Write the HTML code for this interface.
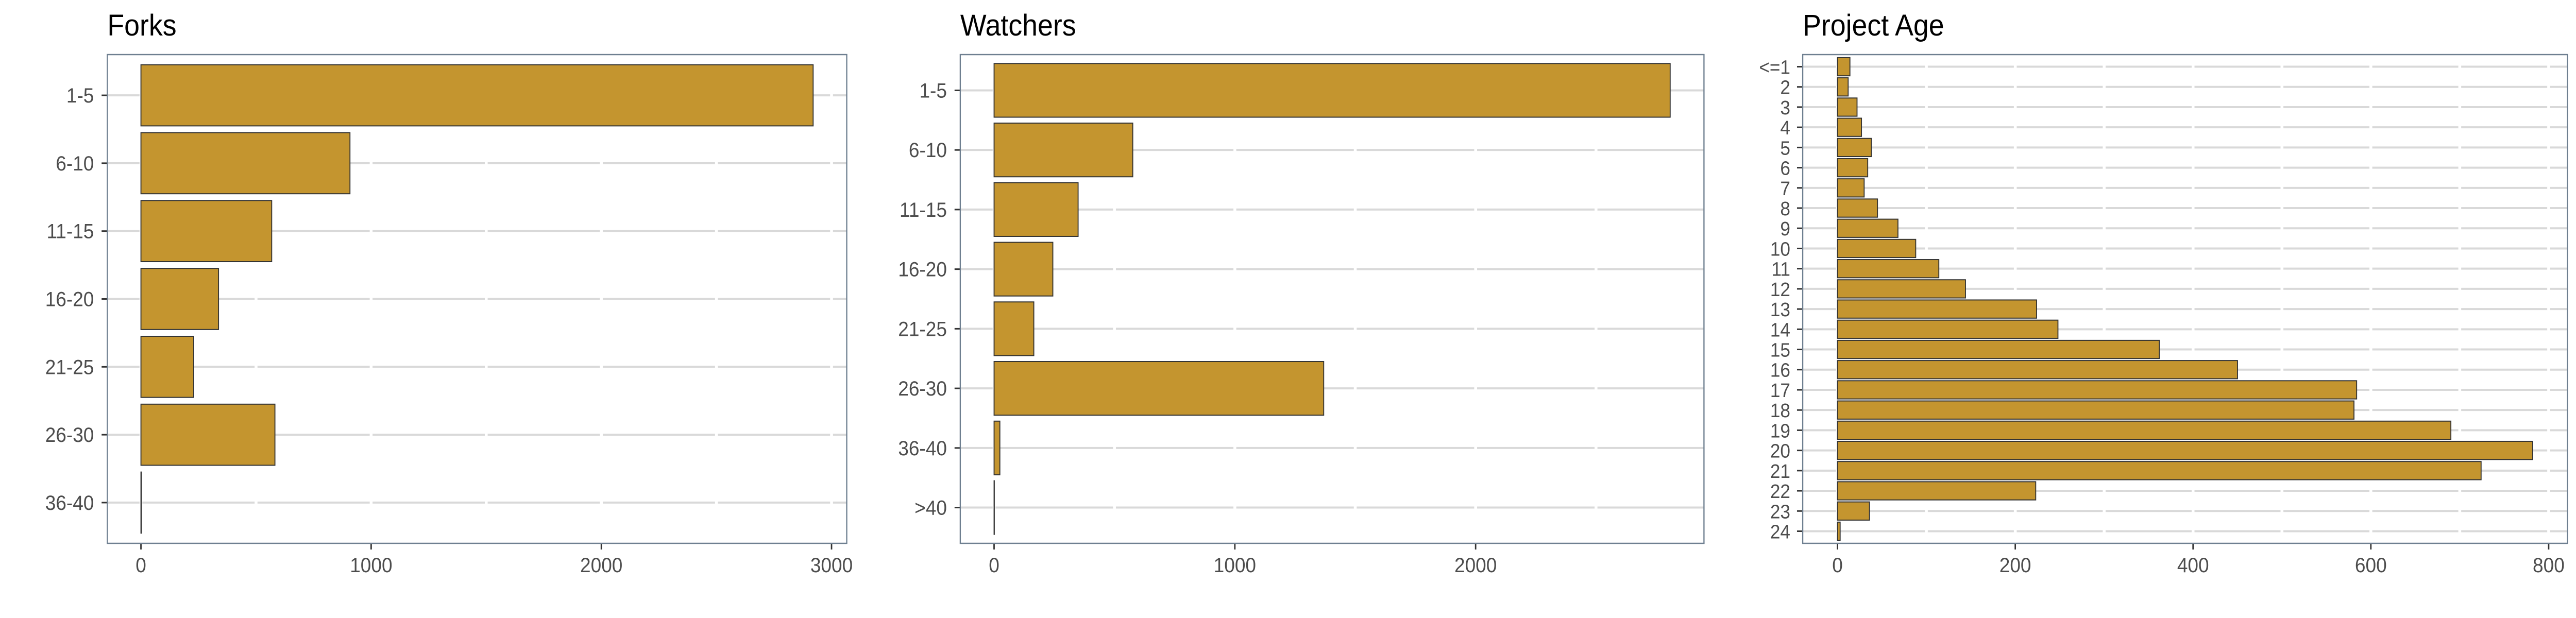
<!DOCTYPE html>
<html><head><meta charset="utf-8"><style>
html,body{margin:0;padding:0;background:#fff;overflow:hidden;}
svg{display:block;width:100vw;height:100vh;font-family:"Liberation Sans",sans-serif;}
</style></head><body>
<svg id="chart" viewBox="0 0 5400 1200" preserveAspectRatio="none" xmlns="http://www.w3.org/2000/svg"></svg>
<script>
const forksCategories = ["1-5","6-10","11-15","16-20","21-25","26-30","36-40"];
const forksValues = [2920, 908, 568, 337, 229, 582, 2];
const forksTicks = [0, 1000, 2000, 3000];
const watchersCategories = ["1-5","6-10","11-15","16-20","21-25","26-30","36-40",">40"];
const watchersValues = [2808, 576, 349, 244, 165, 1369, 24, 1];
const watchersTicks = [0, 1000, 2000];
const ageCategories = ["<=1","2","3","4","5","6","7","8","9","10","11","12","13","14","15","16","17","18","19","20","21","22","23","24"];
const ageValues = [14, 12, 22, 27, 38, 34, 30, 45, 68, 88, 114, 144, 224, 248, 362, 450, 584, 581, 690, 782, 724, 223, 36, 3];
const ageTicks = [0, 200, 400, 600, 800];

const NS = "http://www.w3.org/2000/svg";
const svg = document.getElementById("chart");
function mk(tag, attrs, parent) {
  const e = document.createElementNS(NS, tag);
  for (const k in attrs) e.setAttribute(k, attrs[k]);
  (parent || svg).appendChild(e);
  return e;
}
function panel(name, title, cats, vals, ticks, left, right, labelGap) {
  const top = 106, bottom = 1055;
  const g = mk("g", {});
  
  
  const maxV = Math.max(...vals);
  const dMin = -0.05 * maxV, dMax = 1.05 * maxV;
  const x = v => left + (v - dMin) / (dMax - dMin) * (right - left);
  const n = cats.length;
  const unit = (bottom - top) / (n - 1 + 1.2);
  const y = i => top + (0.6 + i) * unit;
  const bh = unit * 0.9;
  const t = mk("text", {x: left, y: 69, "font-size": 58, fill: "#000"}, g);
  t.textContent = title;
  
  
  for (let i = 0; i < n; i++) {
    const l = mk("line", {x1: left, x2: right, y1: y(i), y2: y(i), stroke: "#d9d9d9", "stroke-width": 4}, g);
    
    
  }
  const step = ticks[1] - ticks[0];
  for (let v = ticks[0] - step / 2; v <= dMax; v += step / 2) {
    if (x(v) <= left || x(v) >= right) continue;
    const l = mk("line", {x1: x(v), x2: x(v), y1: top, y2: bottom, stroke: "#fff", "stroke-width": 6}, g);
    
    
  }
  for (let i = 0; i < n; i++) {
    const r = mk("rect", {x: x(0), y: y(i) - bh / 2, width: Math.max(0.5, x(vals[i]) - x(0)), height: bh,
      fill: "#c4952f", stroke: "#333", "stroke-width": 2}, g);
    
    
    const tk = mk("line", {x1: left - 12, x2: left, y1: y(i), y2: y(i), stroke: "#333", "stroke-width": 3}, g);
    
    
    const lb = mk("text", {x: left - labelGap, y: y(i) + 14, "font-size": n > 10 ? 38 : 40, fill: "#4d4d4d", "text-anchor": "end"}, g);
    lb.textContent = cats[i];
    
    
  }
  for (const v of ticks) {
    const tk = mk("line", {x1: x(v), x2: x(v), y1: bottom, y2: bottom + 12, stroke: "#333", "stroke-width": 3}, g);
    
    
    const lb = mk("text", {x: x(v), y: bottom + 56, "font-size": 40, fill: "#4d4d4d", "text-anchor": "middle"}, g);
    lb.textContent = v;
    
    
  }
  const b = mk("rect", {x: left, y: top, width: right - left, height: bottom - top, fill: "none", stroke: "#6e7f90", "stroke-width": 2.5}, g);
  
  
}
panel("forks", "Forks", forksCategories, forksValues, forksTicks, 225, 1775, 28);
panel("watchers", "Watchers", watchersCategories, watchersValues, watchersTicks, 2013, 3572, 28);
panel("project-age", "Project Age", ageCategories, ageValues, ageTicks, 3779, 5382, 26);
</script>
</body></html>
